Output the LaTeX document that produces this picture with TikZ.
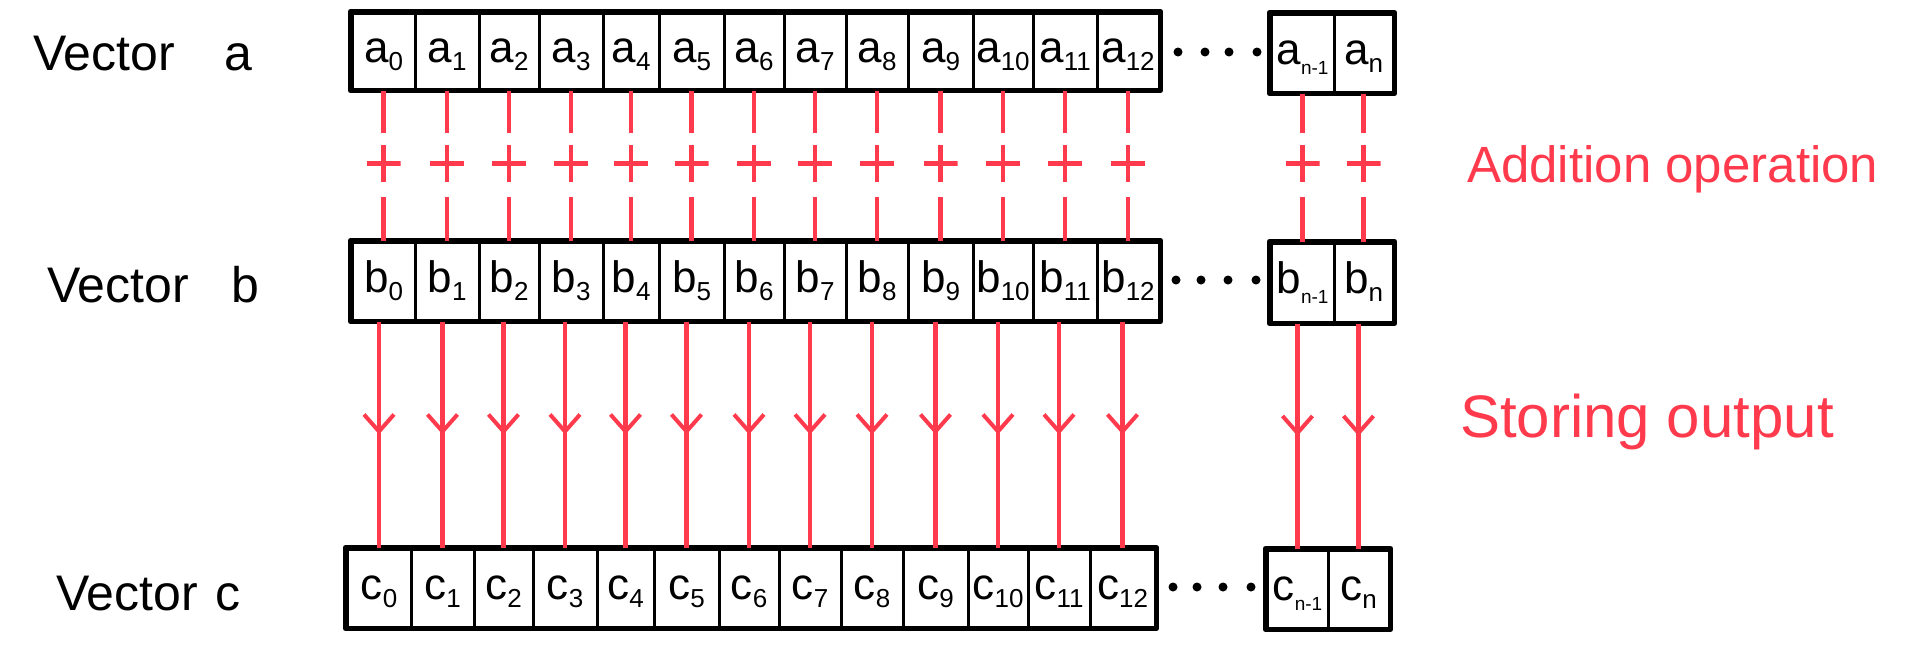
\documentclass[tikz,border=0pt]{standalone}
\usepackage{fontspec}
\setmainfont{Liberation Sans}
\usetikzlibrary{arrows.meta,decorations.markings}
\definecolor{penred}{RGB}{255,58,76}
\newcommand{\celltxt}[2]{{\fontsize{44}{44}\selectfont #1}\raisebox{-8pt}{\fontsize{26}{26}\selectfont #2}}
\newcommand{\cellsmall}[2]{{\fontsize{44}{44}\selectfont #1}\raisebox{-10pt}{\fontsize{19}{19}\selectfont #2}}
\begin{document}
\begin{tikzpicture}[x=1pt,y=-1pt,
  cellbox/.style={draw, line width=3pt, inner sep=0pt, text height=32pt, text depth=10pt, anchor=center},
  outerbox/.style={draw, line width=5pt, line join=round},
  redline/.style={draw=penred, line width=4.5pt},
  plusmark/.style={minimum width=34pt, minimum height=37pt, inner sep=0pt,
    path picture={\draw[penred, line width=4.5pt]
      (path picture bounding box.north) -- (path picture bounding box.south)
      (path picture bounding box.west) -- (path picture bounding box.east);}},
  flowarrow/.style={redline, postaction={decorate}, decoration={markings,
    mark=at position 0.5 with {\arrow[penred, line width=4pt]{Straight Barb[length=17pt,width=30pt]}}}},
  dotmark/.style={circle, fill=black, inner sep=0pt, minimum size=9pt},
  lbl/.style={inner sep=0pt, font=\fontsize{50}{50}\selectfont},
  redlbl/.style={inner sep=0pt, text=penred}
]
\useasboundingbox (0,0) rectangle (1909,646);

% rows a and b
\foreach \i/\l/\r in {0/352/415, 1/415/479, 2/479/539, 3/539/603, 4/603/659, 5/659/724, 6/724/784, 7/784/846, 8/846/908, 9/908/973, 10/973/1033, 11/1033/1097, 12/1097/1159}{
  \pgfmathsetmacro\cx{(\l+\r)/2}
  \pgfmathsetmacro\w{\r-\l}
  \node[cellbox, minimum width=\w pt, minimum height=76pt] (a\i) at (\cx,51) {\celltxt{a}{\i}};
  \node[cellbox, minimum width=\w pt, minimum height=78pt] (b\i) at (\cx,281) {\celltxt{b}{\i}};
}
% row c
\foreach \i/\l/\r in {0/347/411, 1/411/474, 2/474/533, 3/533/597, 4/597/654, 5/654/719, 6/719/779, 7/779/841, 8/841/903, 9/903/968, 10/968/1028, 11/1028/1090, 12/1090/1155}{
  \pgfmathsetmacro\cx{(\l+\r)/2}
  \pgfmathsetmacro\w{\r-\l}
  \node[cellbox, minimum width=\w pt, minimum height=78pt] (c\i) at (\cx,588) {\celltxt{c}{\i}};
}
% last cells
\node[cellbox, minimum width=63pt, minimum height=78pt] (an1) at (1302.5,53) {\cellsmall{a}{n-1}};
\node[cellbox, minimum width=59pt, minimum height=78pt] (an) at (1363.5,53) {\celltxt{a}{n}};
\node[cellbox, minimum width=63pt, minimum height=79pt] (bn1) at (1302.5,282.5) {\cellsmall{b}{n-1}};
\node[cellbox, minimum width=59pt, minimum height=79pt] (bn) at (1363.5,282.5) {\celltxt{b}{n}};
\node[cellbox, minimum width=61pt, minimum height=78pt] (cn1) at (1297.5,589) {\cellsmall{c}{n-1}};
\node[cellbox, minimum width=61pt, minimum height=78pt] (cn) at (1358.5,589) {\celltxt{c}{n}};

% outer borders
\draw[outerbox] (a0.north west) rectangle (a12.south east);
\draw[outerbox] (an1.north west) rectangle (an.south east);
\draw[outerbox] (b0.north west) rectangle (b12.south east);
\draw[outerbox] (bn1.north west) rectangle (bn.south east);
\draw[outerbox] (c0.north west) rectangle (c12.south east);
\draw[outerbox] (cn1.north west) rectangle (cn.south east);

% dots
\foreach \x [count=\k] in {1178,1205,1229,1257} \node[dotmark] (ad\k) at (\x,52) {};
\foreach \x [count=\k] in {1176,1201,1228,1256} \node[dotmark] (bd\k) at (\x,280) {};
\foreach \x [count=\k] in {1173,1197,1223,1251} \node[dotmark] (cd\k) at (\x,587) {};

% connectors
\foreach \i in {0,1,2,3,4,5,6,7,8,9,10,11,12,n1,n}{
  \node[plusmark] (p\i) at (a\i.south |- 0,163.5) {};
  \draw[redline, shorten >=12pt] (a\i.south) -- (p\i.north);
  \draw[redline, shorten <=15pt] (p\i.south) -- (b\i.north);
  \draw[flowarrow] (c\i |- b\i.south) -- (c\i.north);
}

% labels
\node[lbl, anchor=base west] (va) at (33,70) {Vector\hspace{50pt}a};
\node[lbl, anchor=base west] (vb) at (47,302) {Vector\hspace{43pt}b};
\node[lbl, anchor=base west] (vc) at (56,610) {Vector\hspace{18pt}c};
\node[redlbl, anchor=base west, font=\fontsize{51}{51}\selectfont] (addop) at (1467,182) {Addition operation};
\node[redlbl, anchor=base west, font=\fontsize{60}{60}\selectfont] (store) at (1460,437) {Storing output};
\end{tikzpicture}
\end{document}
